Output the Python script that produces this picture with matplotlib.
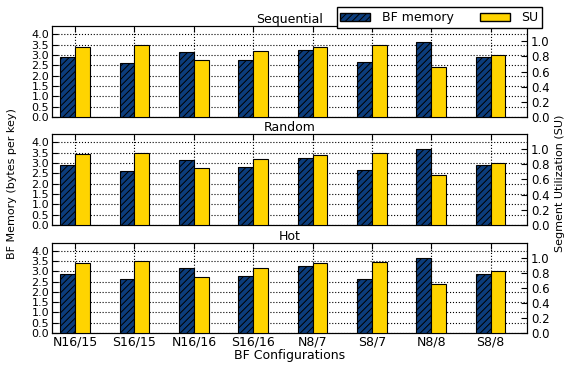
import matplotlib
matplotlib.use('Agg')
import matplotlib.pyplot as plt
from matplotlib.patches import Patch
import numpy as np

# BF configurations on the x-axis
configs = ['N16/15', 'S16/15', 'N16/16', 'S16/16', 'N8/7', 'S8/7', 'N8/8', 'S8/8']
workloads = ['Sequential', 'Random', 'Hot']

# BF memory (bytes per key), left axis
bf_memory = [2.90, 2.63, 3.15, 2.78, 3.26, 2.65, 3.65, 2.88]
# segment utilization, right axis
su = [0.93, 0.955, 0.75, 0.87, 0.925, 0.945, 0.655, 0.82]

blue = '#0c3d7c'
yellow = '#ffd400'
fs = 9


def plot_metrics():
    plt.rcParams['hatch.linewidth'] = 0.7
    fig = plt.figure(figsize=(5.68, 3.67), dpi=100)
    x = np.arange(len(configs))
    w = 0.25

    # panel boxes in figure fractions (bottom, height)
    rows = [(0.681, 0.248), (0.387, 0.248), (0.0926, 0.246)]
    for k, name in enumerate(workloads):
        ax = fig.add_axes([0.0915, rows[k][0], 0.836, rows[k][1]])
        ax.bar(x - w, bf_memory, w, align='edge', color=blue, edgecolor='black',
               hatch='/////', linewidth=0.8, zorder=3)
        ax.set_ylim(0, 4.4)
        ax.set_yticks(np.arange(0, 4.01, 0.5))
        ax.set_xlim(-0.39, 7.61)
        ax.set_xticks(x)
        ax.grid(True, linestyle=':', color='black', linewidth=0.8, zorder=0)
        ax.tick_params(direction='in', top=True, length=4, pad=2)
        ax.tick_params(axis='x', labelsize=fs)
        ax.tick_params(axis='y', right=False, labelsize=8)
        ax.set_title(name, fontsize=fs, pad=2)
        if k < 2:
            ax.set_xticklabels([])
        else:
            ax.set_xticklabels(configs)
            ax.set_xlabel('BF Configurations', fontsize=fs, labelpad=0)

        ax2 = ax.twinx()
        ax2.bar(x, su, w, align='edge', color=yellow, edgecolor='black',
                linewidth=0.8, zorder=3)
        ax2.set_ylim(0, 1.2)
        ax2.set_yticks(np.arange(0, 1.01, 0.2))
        ax2.tick_params(direction='in', labelsize=8.5, length=4, pad=3)

    fig.text(0.022, 0.5, 'BF Memory (bytes per key)', rotation=90,
             va='center', ha='center', fontsize=8)
    fig.text(0.986, 0.5, 'Segment Utilization (SU)', rotation=90,
             va='center', ha='center', fontsize=8)

    handles = [Patch(facecolor=blue, edgecolor='black', hatch='/////'),
               Patch(facecolor=yellow, edgecolor='black')]
    fig.legend(handles, ['BF memory', 'SU'], ncol=2, fontsize=fs,
               loc='upper right', bbox_to_anchor=(0.965, 0.997),
               fancybox=False, edgecolor='black', framealpha=1,
               handlelength=2.4, handleheight=0.6, columnspacing=2.1,
               borderpad=0.3, handletextpad=0.9)

    fig.savefig('out.png', dpi=100)


if __name__ == "__main__":
    plot_metrics()
